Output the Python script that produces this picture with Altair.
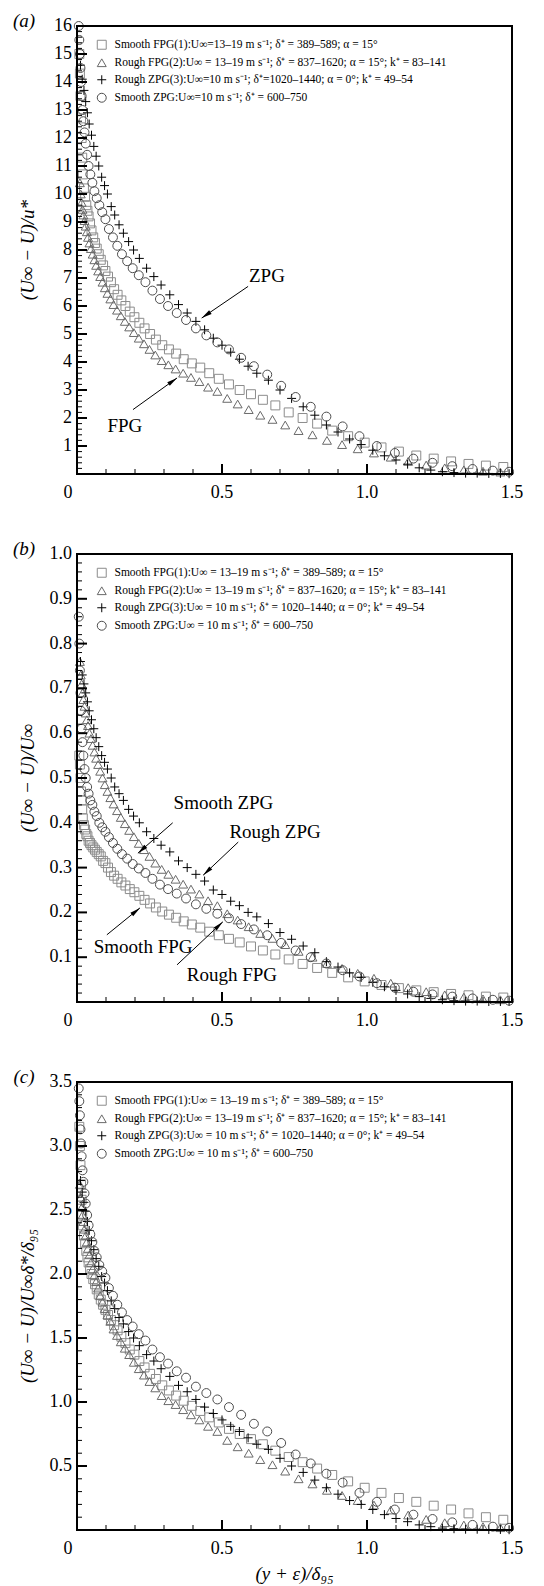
import math
import altair as alt
import pandas as pd

# ---------------- data ----------------
SFPG_X = [0.008, 0.010, 0.012, 0.014, 0.016, 0.018, 0.020, 0.024, 0.028, 0.032, 0.036, 0.040,
          0.045, 0.050, 0.056, 0.062, 0.068, 0.075, 0.082, 0.090, 0.098, 0.107, 0.117, 0.128,
          0.140, 0.153, 0.167, 0.182, 0.198, 0.215, 0.233, 0.252, 0.272, 0.294, 0.317, 0.342,
          0.368, 0.396, 0.425, 0.456, 0.489, 0.524, 0.561, 0.600, 0.641, 0.684, 0.730, 0.778,
          0.828, 0.880, 0.935, 0.992, 1.050, 1.110, 1.170, 1.230, 1.290, 1.350, 1.410, 1.470]
SFPG_A = [15.0, 14.3, 13.5, 12.7, 12.0, 11.3, 10.7, 10.2, 9.9, 9.6, 9.4, 9.2,
          8.95, 8.7, 8.45, 8.25, 8.05, 7.85, 7.65, 7.45, 7.25, 7.05, 6.85, 6.6,
          6.4, 6.2, 6.0, 5.8, 5.6, 5.4, 5.2, 5.0, 4.8, 4.6, 4.45, 4.3,
          4.1, 3.95, 3.8, 3.6, 3.4, 3.2, 3.0, 2.85, 2.65, 2.45, 2.2, 2.0,
          1.8, 1.55, 1.35, 1.12, 0.95, 0.8, 0.66, 0.55, 0.45, 0.36, 0.3, 0.25]
SFPG_B = [0.55, 0.53, 0.50, 0.47, 0.45, 0.43, 0.41, 0.395, 0.385, 0.375, 0.37, 0.36,
          0.355, 0.35, 0.345, 0.34, 0.335, 0.33, 0.325, 0.315, 0.31, 0.30, 0.29, 0.282,
          0.275, 0.267, 0.26, 0.252, 0.245, 0.237, 0.228, 0.22, 0.211, 0.202, 0.195, 0.188,
          0.18, 0.173, 0.166, 0.157, 0.149, 0.141, 0.133, 0.124, 0.115, 0.106, 0.095, 0.085,
          0.076, 0.065, 0.055, 0.046, 0.038, 0.031, 0.026, 0.022, 0.018, 0.015, 0.012, 0.010]
SFPG_C = [3.15, 3.0, 2.85, 2.7, 2.58, 2.47, 2.38, 2.3, 2.24, 2.18, 2.13, 2.09,
          2.04, 2.0, 1.96, 1.92, 1.88, 1.84, 1.8, 1.76, 1.72, 1.68, 1.64, 1.6,
          1.56, 1.51, 1.46, 1.41, 1.37, 1.32, 1.27, 1.22, 1.18, 1.13, 1.09, 1.05,
          1.01, 0.97, 0.93, 0.88, 0.84, 0.79, 0.75, 0.71, 0.67, 0.62, 0.57, 0.53,
          0.48, 0.43, 0.38, 0.33, 0.29, 0.25, 0.22, 0.19, 0.16, 0.13, 0.10, 0.08]

RFPG_X = [0.010, 0.013, 0.016, 0.019, 0.022, 0.026, 0.030, 0.034, 0.038, 0.043,
          0.048, 0.054, 0.060, 0.066, 0.073, 0.080, 0.088, 0.096, 0.105, 0.115,
          0.126, 0.138, 0.151, 0.165, 0.180, 0.196, 0.213, 0.231, 0.250, 0.270,
          0.292, 0.315, 0.340, 0.366, 0.393, 0.422, 0.452, 0.484, 0.518, 0.554,
          0.592, 0.632, 0.674, 0.718, 0.764, 0.812, 0.862, 0.914, 0.968, 1.024,
          1.082, 1.142, 1.204, 1.268, 1.334, 1.400, 1.460]
RFPG_A = [10.4, 10.0, 9.7, 9.45, 9.25, 9.05, 8.85, 8.65, 8.45, 8.25,
          8.05, 7.85, 7.65, 7.45, 7.25, 7.05, 6.85, 6.65, 6.45, 6.25,
          6.05, 5.85, 5.65, 5.45, 5.25, 5.05, 4.85, 4.65, 4.45, 4.25,
          4.05, 3.9, 3.75, 3.6, 3.45, 3.3, 3.1, 2.95, 2.7, 2.5,
          2.3, 2.1, 1.95, 1.75, 1.55, 1.4, 1.2, 1.05, 0.9, 0.75,
          0.6, 0.45, 0.32, 0.22, 0.15, 0.1, 0.07]
RFPG_B = [0.76, 0.73, 0.71, 0.69, 0.675, 0.66, 0.645, 0.63, 0.617, 0.60,
          0.588, 0.573, 0.558, 0.544, 0.53, 0.515, 0.50, 0.485, 0.47, 0.456,
          0.442, 0.427, 0.412, 0.398, 0.383, 0.369, 0.354, 0.34, 0.325, 0.31,
          0.296, 0.285, 0.274, 0.263, 0.252, 0.241, 0.226, 0.215, 0.197, 0.183,
          0.168, 0.153, 0.142, 0.128, 0.113, 0.10, 0.086, 0.075, 0.064, 0.053,
          0.042, 0.032, 0.023, 0.016, 0.011, 0.007, 0.005]
RFPG_C = [2.70, 2.60, 2.52, 2.46, 2.41, 2.35, 2.30, 2.25, 2.20, 2.15,
          2.09, 2.04, 1.99, 1.94, 1.89, 1.83, 1.78, 1.73, 1.68, 1.63,
          1.57, 1.52, 1.47, 1.42, 1.37, 1.31, 1.26, 1.21, 1.16, 1.11,
          1.05, 1.01, 0.98, 0.94, 0.90, 0.86, 0.81, 0.77, 0.70, 0.65,
          0.60, 0.55, 0.51, 0.46, 0.40, 0.36, 0.31, 0.27, 0.23, 0.195,
          0.156, 0.117, 0.083, 0.057, 0.039, 0.026, 0.018]

RZPG_X = [0.012, 0.018, 0.024, 0.030, 0.036, 0.042, 0.050, 0.058, 0.066, 0.075,
          0.085, 0.095, 0.105, 0.118, 0.130, 0.145, 0.160, 0.178, 0.195, 0.215,
          0.240, 0.265, 0.290, 0.320, 0.350, 0.380, 0.410, 0.440, 0.470, 0.500,
          0.530, 0.560, 0.590, 0.620, 0.660, 0.700, 0.740, 0.780, 0.820, 0.860,
          0.900, 0.940, 0.980, 1.020, 1.060, 1.100, 1.140, 1.180, 1.220, 1.260,
          1.300, 1.340, 1.380, 1.420, 1.460, 1.490]
RZPG_A = [14.6, 14.1, 13.7, 13.3, 12.9, 12.5, 12.1, 11.7, 11.35, 11.0,
          10.6, 10.3, 10.0, 9.55, 9.25, 8.9, 8.6, 8.3, 8.0, 7.7,
          7.35, 7.05, 6.75, 6.4, 6.05, 5.75, 5.45, 5.15, 4.85, 4.6,
          4.35, 4.1, 3.85, 3.6, 3.35, 3.0, 2.7, 2.4, 2.1, 1.75,
          1.5, 1.25, 1.05, 0.85, 0.65, 0.5, 0.35, 0.22, 0.14, 0.08,
          0.05, 0.03, 0.03, 0.02, 0.02, 0.01]
RZPG_B = [0.76, 0.73, 0.71, 0.69, 0.67, 0.65, 0.63, 0.61, 0.59, 0.57,
          0.55, 0.535, 0.52, 0.50, 0.48, 0.465, 0.45, 0.43, 0.415, 0.40,
          0.38, 0.365, 0.35, 0.335, 0.315, 0.30, 0.285, 0.27, 0.25, 0.24,
          0.225, 0.215, 0.20, 0.19, 0.175, 0.155, 0.14, 0.125, 0.11, 0.09,
          0.078, 0.065, 0.055, 0.044, 0.034, 0.026, 0.018, 0.012, 0.008, 0.005,
          0.003, 0.002, 0.002, 0.001, 0.001, 0.001]
RZPG_C = [2.73, 2.64, 2.56, 2.49, 2.41, 2.34, 2.26, 2.19, 2.12, 2.06,
          1.98, 1.93, 1.87, 1.79, 1.73, 1.66, 1.61, 1.55, 1.50, 1.44,
          1.37, 1.32, 1.26, 1.20, 1.13, 1.08, 1.02, 0.96, 0.91, 0.86,
          0.81, 0.77, 0.72, 0.67, 0.63, 0.56, 0.50, 0.45, 0.39, 0.33,
          0.28, 0.23, 0.20, 0.16, 0.12, 0.09, 0.065, 0.04, 0.026, 0.015,
          0.01, 0.006, 0.006, 0.004, 0.004, 0.002]

SZPG_X = [0.006, 0.008, 0.010, 0.012, 0.014, 0.016, 0.019, 0.022, 0.026, 0.030,
          0.035, 0.040, 0.046, 0.053, 0.060, 0.068, 0.077, 0.087, 0.098, 0.110,
          0.124, 0.139, 0.155, 0.173, 0.192, 0.213, 0.236, 0.260, 0.286, 0.314,
          0.344, 0.376, 0.410, 0.446, 0.484, 0.524, 0.566, 0.610, 0.656, 0.704,
          0.754, 0.806, 0.860, 0.916, 0.974, 1.034, 1.096, 1.160, 1.226, 1.294,
          1.364, 1.434, 1.490]
SZPG_A = [16.0, 15.5, 15.0, 14.5, 14.0, 13.5, 13.0, 12.6, 12.2, 11.8,
          11.4, 11.0, 10.7, 10.4, 10.1, 9.85, 9.6, 9.35, 9.1, 8.75,
          8.45, 8.15, 7.85, 7.6, 7.35, 7.1, 6.85, 6.55, 6.25, 6.0,
          5.75, 5.5, 5.2, 4.95, 4.7, 4.45, 4.15, 3.85, 3.55, 3.15,
          2.75, 2.4, 2.05, 1.7, 1.35, 1.0, 0.75, 0.55, 0.4, 0.28,
          0.18, 0.12, 0.08]
SZPG_B = [0.86, 0.80, 0.74, 0.69, 0.65, 0.61, 0.58, 0.55, 0.52, 0.50,
          0.48, 0.465, 0.45, 0.44, 0.425, 0.415, 0.40, 0.39, 0.38, 0.368,
          0.355, 0.342, 0.33, 0.32, 0.308, 0.298, 0.288, 0.275, 0.262, 0.252,
          0.242, 0.231, 0.218, 0.208, 0.197, 0.187, 0.174, 0.162, 0.149, 0.132,
          0.115, 0.10, 0.086, 0.071, 0.057, 0.042, 0.032, 0.023, 0.017, 0.012,
          0.008, 0.005, 0.003]
SZPG_C = [3.45, 3.35, 3.24, 3.13, 3.02, 2.92, 2.81, 2.72, 2.63, 2.55,
          2.46, 2.38, 2.31, 2.25, 2.18, 2.13, 2.07, 2.02, 1.97, 1.89,
          1.83, 1.76, 1.70, 1.64, 1.59, 1.53, 1.48, 1.41, 1.35, 1.30,
          1.24, 1.19, 1.12, 1.07, 1.02, 0.96, 0.90, 0.83, 0.77, 0.68,
          0.59, 0.52, 0.44, 0.37, 0.29, 0.22, 0.16, 0.12, 0.086, 0.06,
          0.04, 0.026, 0.017]

LEGEND_A = [
    "Smooth FPG(1):U∞=13–19 m s⁻¹; δ⁺ = 389–589; α = 15°",
    "Rough FPG(2):U∞ = 13–19 m s⁻¹; δ⁺ = 837–1620; α = 15°; k⁺ = 83–141",
    "Rough ZPG(3):U∞=10 m s⁻¹; δ⁺=1020–1440; α = 0°; k⁺ = 49–54",
    "Smooth ZPG:U∞=10 m s⁻¹; δ⁺ = 600–750",
]
LEGEND_BC = [
    "Smooth FPG(1):U∞ = 13–19 m s⁻¹; δ⁺ = 389–589; α = 15°",
    "Rough FPG(2):U∞ = 13–19 m s⁻¹; δ⁺ = 837–1620; α = 15°; k⁺ = 83–141",
    "Rough ZPG(3):U∞ = 10 m s⁻¹; δ⁺ = 1020–1440; α = 0°; k⁺ = 49–54",
    "Smooth ZPG:U∞ = 10 m s⁻¹; δ⁺ = 600–750",
]

X_MAJOR = [0.5, 1.0]
X_LABELS = [(0.0, "0"), (0.5, "0.5"), (1.0, "1.0"), (1.5, "1.5")]
A_Y_MAJOR = [1, 2, 3, 4, 5, 6, 7, 8, 9, 10, 11, 12, 13, 14, 15, 16]
A_Y_LABELS = ["1", "2", "3", "4", "5", "6", "7", "8", "9", "10", "11", "12", "13", "14", "15", "16"]
B_Y_MAJOR = [0.1, 0.2, 0.3, 0.4, 0.5, 0.6, 0.7, 0.8, 0.9, 1.0]
B_Y_LABELS = ["0.1", "0.2", "0.3", "0.4", "0.5", "0.6", "0.7", "0.8", "0.9", "1.0"]
C_Y_MAJOR = [0.5, 1.0, 1.5, 2.0, 2.5, 3.0, 3.5]
C_Y_LABELS = ["0.5", "1.0", "1.5", "2.0", "2.5", "3.0", "3.5"]
X_MINOR = [i * 0.1 for i in range(1, 15) if i % 5]
A_Y_MINOR = [i * 0.2 for i in range(1, 80) if i % 5]
B_Y_MINOR = [i * 0.02 for i in range(1, 50) if i % 5]
C_Y_MINOR = [i * 0.1 for i in range(1, 35) if i % 5]

# annotations: (text, x, y) and arrows (x1, y1, x2, y2) in data units
A_TEXTS = [("ZPG", 0.655, 7.07), ("FPG", 0.165, 1.7)]
A_ARROWS = [(0.59, 6.7, 0.43, 5.57), (0.193, 2.3, 0.345, 3.43)]
B_TEXTS = [("Smooth ZPG", 0.505, 0.444), ("Rough ZPG", 0.683, 0.38),
           ("Smooth FPG", 0.228, 0.123), ("Rough FPG", 0.534, 0.06)]
B_ARROWS = [(0.33, 0.40, 0.21, 0.332), (0.556, 0.357, 0.435, 0.283),
            (0.103, 0.15, 0.217, 0.21), (0.345, 0.083, 0.503, 0.179)]

# ---------------- style ----------------
W, H = 435, 448
XMAX = 1.5
FONT = "Liberation Serif"
SHAPES = ["square", "triangle-up", "M-1,0H1M0,-1V1", "circle"]
COLORS = ["#8c8c8c", "#6a6a6a", "#000000", "#4d4d4d"]
WIDTHS = [1.0, 1.0, 1.7, 1.0]
HEAD = "M0,0L0.42,2L-0.42,2Z"

XS = [SFPG_X, RFPG_X, RZPG_X, SZPG_X]


def panel(ys, ymax, ymaj, ylabs, ymin, ytitle, labels, tag, texts, arrows, xtitle=None):
    rows = []
    for lab, xs, yv in zip(labels, XS, ys):
        for xv, yy in zip(xs, yv):
            rows.append({"x": xv, "y": yy, "series": lab})
    df = pd.DataFrame(rows)

    xscale = alt.Scale(domain=[0, XMAX], nice=False, zero=False)
    yscale = alt.Scale(domain=[0, ymax], nice=False, zero=False)

    def X(field):
        return alt.X(field, type="quantitative", scale=xscale, axis=None)

    def Y(field):
        return alt.Y(field, type="quantitative", scale=yscale, axis=None)

    leg = alt.Legend(title=None, orient="none", legendX=19, legendY=13, padding=0,
                     labelFont=FONT, labelFontSize=11.5, labelColor="black", labelLimit=500,
                     symbolSize=80, symbolStrokeWidth=1.2, rowPadding=4, labelOffset=7)

    pts = alt.Chart(df).mark_point(filled=False, opacity=1, size=80).encode(
        x=X("x"), y=Y("y"),
        shape=alt.Shape("series:N", scale=alt.Scale(domain=labels, range=SHAPES), legend=leg),
        color=alt.Color("series:N", scale=alt.Scale(domain=labels, range=COLORS), legend=leg),
        strokeWidth=alt.StrokeWidth("series:N", scale=alt.Scale(domain=labels, range=WIDTHS), legend=None),
    )

    def yticks(vals, length, sw):
        return alt.Chart(pd.DataFrame({"v": vals})).mark_rule(color="black", strokeWidth=sw).encode(
            y=Y("v"), x=alt.value(0), x2=alt.value(length))

    def xticks(vals, length, sw):
        return alt.Chart(pd.DataFrame({"v": vals})).mark_rule(color="black", strokeWidth=sw).encode(
            x=X("v"), y=alt.value(H), y2=alt.value(H - length))

    # frame: horizontal edges at y = 0 and y = ymax, vertical edges at x = 0 and x = XMAX
    hframe = alt.Chart(pd.DataFrame({"v": [0, ymax]})).mark_rule(color="black", strokeWidth=2).encode(
        y=Y("v"), x=alt.value(-1), x2=alt.value(W + 1))
    vframe = alt.Chart(pd.DataFrame({"v": [0, XMAX]})).mark_rule(color="black", strokeWidth=2).encode(
        x=X("v"), y=alt.value(-1), y2=alt.value(H + 1))

    # tick labels as text
    ylab = alt.Chart(pd.DataFrame({"v": ymaj, "t": ylabs})).mark_text(
        font=FONT, fontSize=18, color="black", align="right", baseline="middle", dx=-5
    ).encode(y=Y("v"), x=alt.value(0), text="t:N")
    xlab_df = pd.DataFrame(X_LABELS, columns=["v", "t"])
    xlab = alt.Chart(xlab_df[xlab_df.v > 0]).mark_text(
        font=FONT, fontSize=18, color="black", align="center", baseline="middle"
    ).encode(x=X("v"), y=alt.value(H + 19), text="t:N")
    xlab0 = alt.Chart(xlab_df[xlab_df.v == 0]).mark_text(
        font=FONT, fontSize=18, color="black", align="center", baseline="middle", dx=-9
    ).encode(x=X("v"), y=alt.value(H + 19), text="t:N")

    ytit = alt.Chart(pd.DataFrame({"t": [ytitle]})).mark_text(
        font=FONT, fontSize=19, fontStyle="italic", color="black", align="center",
        baseline="middle", angle=270
    ).encode(text="t:N", x=alt.value(-49), y=alt.value(H / 2))

    layers = [pts, yticks(ymaj, 10, 2), yticks(ymin, 5, 1),
              xticks(X_MAJOR, 10, 2), xticks(X_MINOR, 5, 1), hframe, vframe,
              ylab, xlab, xlab0, ytit]

    if xtitle:
        xtit = alt.Chart(pd.DataFrame({"t": [xtitle]})).mark_text(
            font=FONT, fontSize=19, fontStyle="italic", color="black", align="center",
            baseline="middle"
        ).encode(text="t:N", x=alt.value(W / 2), y=alt.value(H + 44))
        layers.append(xtit)

    if arrows:
        adf = pd.DataFrame(arrows, columns=["x1", "y1", "x2", "y2"])
        angs = []
        for x1, y1, x2, y2 in arrows:
            dx = (x2 - x1) * W / XMAX
            dy = -(y2 - y1) * H / ymax
            angs.append(math.degrees(math.atan2(dx, -dy)) % 360)
        adf["ang"] = angs
        lines = alt.Chart(adf).mark_rule(color="black", strokeWidth=1).encode(
            x=X("x1"), y=Y("y1"), x2="x2:Q", y2="y2:Q")
        heads = alt.Chart(adf).mark_point(shape=HEAD, filled=True, color="black", opacity=1,
                                          size=110, strokeWidth=0).encode(
            x=X("x2"), y=Y("y2"), angle=alt.Angle("ang:Q", scale=None))
        layers += [lines, heads]

    if texts:
        tdf = pd.DataFrame(texts, columns=["t", "x", "y"])
        labs = alt.Chart(tdf).mark_text(font=FONT, fontSize=19, color="black", align="center",
                                        baseline="middle").encode(x=X("x"), y=Y("y"), text="t:N")
        layers.append(labs)

    tagc = alt.Chart(pd.DataFrame({"t": [tag]})).mark_text(
        font=FONT, fontSize=19, fontStyle="italic", color="black", align="center", baseline="middle"
    ).encode(text="t:N", x=alt.value(-53), y=alt.value(-5))
    layers.append(tagc)

    return alt.layer(*layers).properties(width=W, height=H)


pa = panel([SFPG_A, RFPG_A, RZPG_A, SZPG_A], 16, A_Y_MAJOR, A_Y_LABELS, A_Y_MINOR,
           "(U∞ − U)/u*", LEGEND_A, "(a)", A_TEXTS, A_ARROWS)
pb = panel([SFPG_B, RFPG_B, RZPG_B, SZPG_B], 1.0, B_Y_MAJOR, B_Y_LABELS, B_Y_MINOR,
           "(U∞ − U)/U∞", LEGEND_BC, "(b)", B_TEXTS, B_ARROWS)
pc = panel([SFPG_C, RFPG_C, RZPG_C, SZPG_C], 3.5, C_Y_MAJOR, C_Y_LABELS, C_Y_MINOR,
           "(U∞ − U)/U∞δ*/δ₉₅", LEGEND_BC, "(c)", [], [], xtitle="(y + ε)/δ₉₅")

chart = alt.vconcat(pa, pb, pc, spacing=80, bounds="flush").resolve_scale(
    color="independent", shape="independent", strokeWidth="independent", y="independent"
).resolve_legend(color="independent", shape="independent").properties(
    padding={"left": 4, "top": 3, "right": 5, "bottom": 0}
).configure(background="white")

chart.save("out.html", embed_options={"renderer": "svg", "actions": False})
